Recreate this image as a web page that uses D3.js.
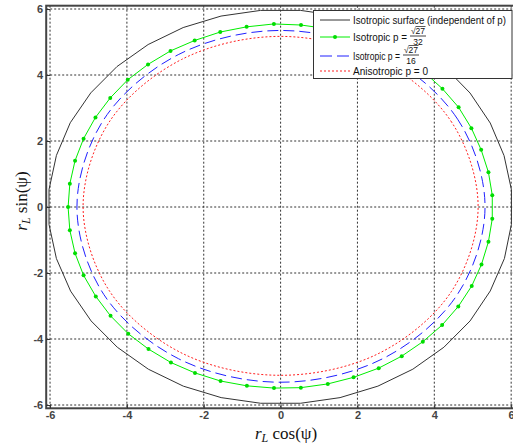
<!DOCTYPE html>
<html><head><meta charset="utf-8">
<script src="https://cdn.jsdelivr.net/npm/d3@7"></script>
<style>body{margin:0;background:#fff}</style>
</head><body><svg id="c" width="513" height="445"></svg>
<script>
// ---- data ----
const tickValues = [-6, -4, -2, 0, 2, 4, 6];
const tickLabels = ["-6", "-4", "-2", "0", "2", "4", "6"];
// green (marker) curve: angle psi (deg) and radius r_L
const psiGreen = [3.7, 11.0, 18.4, 25.7, 33.1, 40.4, 47.8, 55.1, 62.4, 69.8, 77.1, 84.5, 91.8, 99.2, 106.5, 113.9, 121.2, 128.6, 135.9, 143.3, 150.6, 158.0, 165.3, 172.7, 180.0, 187.3, 194.7, 202.0, 209.4, 216.7, 224.1, 231.4, 238.8, 246.1, 253.5, 260.8, 268.2, 275.5, 282.9, 290.2, 297.6, 304.9, 312.2, 319.6, 326.9, 334.3, 341.6, 349.0, 356.3];
const rGreen = [5.52, 5.51, 5.50, 5.51, 5.53, 5.53, 5.54, 5.54, 5.54, 5.54, 5.54, 5.54, 5.55, 5.53, 5.53, 5.52, 5.53, 5.53, 5.54, 5.53, 5.53, 5.53, 5.53, 5.53, 5.53, 5.53, 5.53, 5.53, 5.52, 5.52, 5.52, 5.51, 5.51, 5.50, 5.50, 5.49, 5.49, 5.50, 5.50, 5.50, 5.51, 5.51, 5.51, 5.52, 5.52, 5.52, 5.51, 5.51, 5.52];
// black curve (polygon)
const psiBlack = [5, 15, 25, 35, 45, 55, 65, 75, 85, 95, 105, 115, 125, 135, 145, 155, 165, 175, 185, 195, 205, 215, 225, 235, 245, 255, 265, 275, 285, 295, 305, 315, 325, 335, 345, 355];
const rBlack = [6.03, 6.02, 6.02, 6.02, 6.02, 6.01, 6.0, 5.99, 5.98, 5.98, 5.99, 6.0, 6.01, 6.02, 6.03, 6.04, 6.04, 6.05, 6.05, 6.04, 6.03, 6.02, 6.01, 6.0, 5.99, 5.98, 5.97, 5.97, 5.98, 5.99, 6.0, 6.01, 6.02, 6.02, 6.03, 6.03];
// smooth curves
const psiSmooth = [0, 30, 60, 90, 120, 150, 180, 210, 240, 270, 300, 330];
const rBlue = [5.32, 5.32, 5.33, 5.35, 5.33, 5.31, 5.30, 5.31, 5.31, 5.31, 5.31, 5.31];
const rRed = [5.14, 5.14, 5.15, 5.17, 5.16, 5.15, 5.14, 5.13, 5.12, 5.10, 5.12, 5.13];

const legendLabels = ["Isotropic surface (independent of p)", "Isotropic p =", "Isotropic p =", "Anisotropic p = 0"];
const legendFracNum = ["", "√27", "√27", ""];
const legendFracDen = ["", "32", "16", ""];

// ---- chart ----
const svg = d3.select("#c");
const x = d3.scaleLinear().domain([-6.1, 6.1]).range([46.2, 515]);
const y = d3.scaleLinear().domain([-6.1, 6.1]).range([408.3, 5.7]);
const rad = d => d * Math.PI / 180;

// grid
const grid = svg.append("g").attr("stroke", "#333").attr("stroke-width", 1).attr("stroke-dasharray", "2,2");
tickValues.forEach(v => {
  grid.append("line").attr("x1", x(v)).attr("x2", x(v)).attr("y1", y(6.1)).attr("y2", y(-6.1));
  grid.append("line").attr("y1", y(v)).attr("y2", y(v)).attr("x1", x(-6.1)).attr("x2", x(6.1));
});

function pts(psi, r) { return psi.map((p, i) => [r[i] * Math.cos(rad(p)), r[i] * Math.sin(rad(p))]); }
const lineLin = d3.line().x(d => x(d[0])).y(d => y(d[1])).curve(d3.curveLinearClosed);
const lineSmooth = d3.line().x(d => x(d[0])).y(d => y(d[1])).curve(d3.curveCatmullRomClosed);

svg.append("path").attr("d", lineSmooth(pts(psiSmooth, rRed))).attr("fill", "none")
  .attr("stroke", "#ff2020").attr("stroke-width", 1).attr("stroke-dasharray", "2,2");
svg.append("path").attr("d", lineSmooth(pts(psiSmooth, rBlue))).attr("fill", "none")
  .attr("stroke", "#2020ff").attr("stroke-width", 1).attr("stroke-dasharray", "11,5");
const gp = pts(psiGreen, rGreen);
svg.append("path").attr("d", lineLin(gp)).attr("fill", "none").attr("stroke", "#00ee00").attr("stroke-width", 1);
svg.append("g").selectAll("circle").data(gp).join("circle")
  .attr("cx", d => x(d[0])).attr("cy", d => y(d[1])).attr("r", 2).attr("fill", "#00dd00");
svg.append("path").attr("d", lineLin(pts(psiBlack, rBlack))).attr("fill", "none").attr("stroke", "#333").attr("stroke-width", 1);

// frame
svg.append("rect").attr("x", x(-6.1)).attr("y", y(6.1)).attr("width", x(6.1) - x(-6.1)).attr("height", y(-6.1) - y(6.1))
  .attr("fill", "none").attr("stroke", "#444").attr("stroke-width", 2);

// axes (inward ticks)
const xAxB = d3.axisBottom(x).tickValues(tickValues).tickFormat((d, i) => tickLabels[i]).tickSizeInner(-4).tickSizeOuter(0).tickPadding(3);
const yAxL = d3.axisLeft(y).tickValues(tickValues).tickFormat((d, i) => tickLabels[i]).tickSizeInner(-4).tickSizeOuter(0).tickPadding(3);
const gx = svg.append("g").attr("transform", `translate(0,${y(-6.1)})`).call(xAxB);
const gy = svg.append("g").attr("transform", `translate(${x(-6.1)},0)`).call(yAxL);
[gx, gy].forEach(g => {
  g.select(".domain").remove();
  g.selectAll("line").attr("stroke", "#333");
  g.selectAll("text").attr("font-family", "Liberation Sans, Arial, sans-serif").attr("font-size", 11)
    .attr("font-weight", "bold").attr("fill", "#444");
});
gy.selectAll("text").attr("dy", "0.35em");

// axis labels
const xl = svg.append("text").attr("x", 286).attr("y", 439).attr("text-anchor", "middle")
  .attr("font-family", "Liberation Serif, serif").attr("font-size", 17).attr("fill", "#111");
xl.append("tspan").attr("font-style", "italic").text("r");
xl.append("tspan").attr("font-style", "italic").attr("font-size", 12).attr("dy", 3).text("L");
xl.append("tspan").attr("dy", -3).text(" cos(ψ)");
const yl = svg.append("text").attr("transform", `translate(27,201) rotate(-90)`).attr("text-anchor", "middle")
  .attr("font-family", "Liberation Serif, serif").attr("font-size", 17).attr("fill", "#111");
yl.append("tspan").attr("font-style", "italic").text("r");
yl.append("tspan").attr("font-style", "italic").attr("font-size", 12).attr("dy", 3).text("L");
yl.append("tspan").attr("dy", -3).text(" sin(ψ)");

// legend
const lg = svg.append("g");
lg.append("rect").attr("x", 313.5).attr("y", 10.5).attr("width", 198.5).attr("height", 68)
  .attr("fill", "#fff").attr("stroke", "#333").attr("stroke-width", 1);
const rowsY = [20, 37, 56, 71];
const textW = [153, 54, 47, 75];
const styles = [
  { c: "#333", d: null }, { c: "#00ee00", d: null }, { c: "#2020ff", d: "12,5" }, { c: "#ff2020", d: "2,2" }
];
legendLabels.forEach((lab, i) => {
  const ly = rowsY[i];
  const ln = lg.append("line").attr("x1", 320).attr("x2", 350).attr("y1", ly).attr("y2", ly)
    .attr("stroke", styles[i].c).attr("stroke-width", 1);
  if (styles[i].d) ln.attr("stroke-dasharray", styles[i].d);
  if (i === 1) lg.append("circle").attr("cx", 335).attr("cy", ly).attr("r", 2).attr("fill", "#00dd00");
  lg.append("text").attr("x", 353).attr("y", ly + 4).attr("font-family", "Liberation Sans, Arial, sans-serif")
    .attr("font-size", 11.5).attr("fill", "#111").attr("textLength", textW[i]).attr("lengthAdjust", "spacingAndGlyphs").text(lab);
  if (legendFracNum[i]) {
    const fx = 353 + textW[i] + 3;
    lg.append("text").attr("x", fx + 8).attr("y", ly - 3).attr("text-anchor", "middle")
      .attr("font-family", "Liberation Sans, Arial, sans-serif").attr("font-size", 8.5).attr("fill", "#111").text(legendFracNum[i]);
    lg.append("line").attr("x1", fx + 5.5).attr("x2", fx + 15.5).attr("y1", ly - 10.5).attr("y2", ly - 10.5).attr("stroke", "#111").attr("stroke-width", 0.7);
    lg.append("line").attr("x1", fx).attr("x2", fx + 16).attr("y1", ly - 1).attr("y2", ly - 1).attr("stroke", "#111").attr("stroke-width", 0.8);
    lg.append("text").attr("x", fx + 8).attr("y", ly + 8).attr("text-anchor", "middle")
      .attr("font-family", "Liberation Sans, Arial, sans-serif").attr("font-size", 8.5).attr("fill", "#111").text(legendFracDen[i]);
  }
});
</script></body></html>
